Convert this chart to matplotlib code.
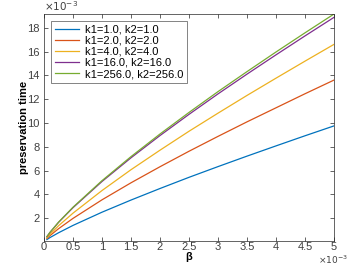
import numpy as np
import matplotlib
matplotlib.use("Agg")
import matplotlib.pyplot as plt
from matplotlib.ticker import MultipleLocator, FormatStrFormatter

plt.rcParams['font.family'] = ['Liberation Sans', 'DejaVu Sans']

# beta values (x1e-3) and preservation time (x1e-3)
beta = [0.05, 0.1, 0.25, 0.5, 1.0, 1.5, 2.0, 2.5, 3.0, 3.5, 4.0, 4.5, 5.0]
t_k1 = [0.20, 0.36, 0.77, 1.39, 2.50, 3.52, 4.49, 5.43, 6.33, 7.21, 8.07, 8.92, 9.75]
t_k2 = [0.29, 0.52, 1.11, 1.98, 3.54, 4.97, 6.32, 7.62, 8.87, 10.09, 11.27, 12.45, 13.60]
t_k4 = [0.35, 0.63, 1.36, 2.42, 4.32, 6.07, 7.71, 9.30, 10.82, 12.31, 13.76, 15.19, 16.60]
t_k16 = [0.44, 0.78, 1.64, 2.88, 5.08, 7.07, 8.94, 10.72, 12.44, 14.10, 15.72, 17.31, 18.87]
t_k256 = [0.45, 0.79, 1.66, 2.92, 5.15, 7.17, 9.07, 10.88, 12.63, 14.31, 15.96, 17.57, 19.15]

labels = ["k1=1.0, k2=1.0", "k1=2.0, k2=2.0", "k1=4.0, k2=4.0",
          "k1=16.0, k2=16.0", "k1=256.0, k2=256.0"]
colors = ["#0072BD", "#D95319", "#EDB120", "#7E2F8E", "#77AC30"]
series = [t_k1, t_k2, t_k4, t_k16, t_k256]

fig = plt.figure(figsize=(3.59, 2.66), dpi=100)
ax = fig.add_axes([0.1226, 0.094, 0.8074, 0.853])

# axes are in units of 1e-3, shown with the x10^-3 marks
for ys, lab, c in zip(series, labels, colors):
    ax.plot(beta, ys, color=c, lw=0.9, label=lab)

ax.set_xlim(0, 5)
ax.set_ylim(0.08, 19.15)
ax.xaxis.set_major_locator(MultipleLocator(0.5))
ax.yaxis.set_major_locator(MultipleLocator(2))
ax.xaxis.set_major_formatter(FormatStrFormatter('%g'))
ax.yaxis.set_major_formatter(FormatStrFormatter('%g'))

ax.tick_params(direction='in', top=True, right=True, length=3, width=0.5,
               labelsize=8, colors='#262626', labelcolor='#404040', pad=3)
ax.tick_params(axis='x', pad=1)
for s in ax.spines.values():
    s.set_linewidth(0.5)
    s.set_color('#262626')

ax.text(0.0, 1.005, r"$\times 10^{-3}$", transform=ax.transAxes, fontsize=7.5,
        color='#404040', ha='left', va='bottom')
fig.text(318 / 359, 0.3 / 266, r"$\times 10^{-3}$", fontsize=6.5,
         color='#404040', ha='left', va='bottom')

ax.set_xlabel("β", fontsize=8, fontweight='bold', labelpad=0)
ax.set_ylabel("preservation time", fontsize=8, fontweight='bold', labelpad=-1)

leg = ax.legend(loc='upper left', fontsize=8, frameon=True, fancybox=False,
                handlelength=2.2, borderpad=0.35, labelspacing=0.1,
                borderaxespad=0.6, handletextpad=0.5)
leg.get_frame().set_edgecolor('#262626')
leg.get_frame().set_linewidth(0.5)

fig.savefig("out.png", dpi=100)
